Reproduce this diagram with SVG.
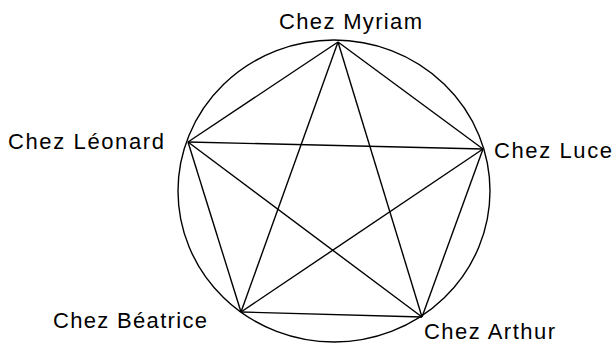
<svg xmlns="http://www.w3.org/2000/svg" width="614" height="343" viewBox="0 0 614 343">
<style>
  .edge { stroke: #000; stroke-width: 1.4; fill: none; }
  .lbl { font-family: "Liberation Sans", Arial, sans-serif; font-size: 22px; fill: #000; }
</style>
<rect width="614" height="343" fill="#fff"/>
<g id="circle">
  <ellipse class="edge" cx="334" cy="191" rx="156" ry="151"/>
</g>
<g id="connectors">
  <line class="edge" x1="338" y1="42" x2="483" y2="149"/>
  <line class="edge" x1="338" y1="42" x2="188" y2="142"/>
  <line class="edge" x1="338" y1="42" x2="422" y2="317"/>
  <line class="edge" x1="338" y1="42" x2="241" y2="312"/>
  <line class="edge" x1="188" y1="142" x2="483" y2="149"/>
  <line class="edge" x1="188" y1="142" x2="241" y2="312"/>
  <line class="edge" x1="188" y1="142" x2="422" y2="317"/>
  <line class="edge" x1="483" y1="149" x2="241" y2="312"/>
  <line class="edge" x1="483" y1="149" x2="422" y2="317"/>
  <line class="edge" x1="241" y1="312" x2="422" y2="317"/>
</g>
<g id="myriam"><text class="lbl" x="279" y="29" textLength="143" lengthAdjust="spacing">Chez Myriam</text></g>
<g id="leonard"><text class="lbl" x="8" y="149" textLength="156" lengthAdjust="spacing">Chez Léonard</text></g>
<g id="luce"><text class="lbl" x="494" y="158" textLength="118" lengthAdjust="spacing">Chez Luce</text></g>
<g id="beatrice"><text class="lbl" x="53" y="328" textLength="154" lengthAdjust="spacing">Chez Béatrice</text></g>
<g id="arthur"><text class="lbl" x="424" y="339" textLength="131" lengthAdjust="spacing">Chez Arthur</text></g>
</svg>
